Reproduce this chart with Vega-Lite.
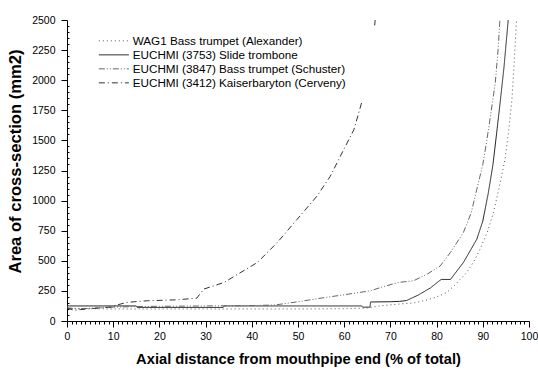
{
  "$schema": "https://vega.github.io/schema/vega-lite/v6.json",
  "width": 462,
  "height": 301,
  "autosize": "none",
  "padding": {"left": 67, "top": 20, "right": 9, "bottom": 49},
  "background": "white",
  "config": {
    "view": {"stroke": null},
    "font": "Liberation Sans",
    "axis": {"labelFont": "Liberation Sans Narrow, Liberation Sans", "titleFont": "Liberation Sans", "labelColor": "#000", "titleColor": "#000", "domainColor": "#000", "tickColor": "#000", "grid": false, "labelFontSize": 10.5}
  },
  "data": {
    "values": [
      {"s": "WAG1 Bass trumpet (Alexander)", "g": "w", "x": 0, "y": 120},
      {"s": "WAG1 Bass trumpet (Alexander)", "g": "w", "x": 1, "y": 105},
      {"s": "WAG1 Bass trumpet (Alexander)", "g": "w", "x": 5, "y": 102},
      {"s": "WAG1 Bass trumpet (Alexander)", "g": "w", "x": 10, "y": 100},
      {"s": "WAG1 Bass trumpet (Alexander)", "g": "w", "x": 30, "y": 100},
      {"s": "WAG1 Bass trumpet (Alexander)", "g": "w", "x": 50, "y": 100},
      {"s": "WAG1 Bass trumpet (Alexander)", "g": "w", "x": 60, "y": 102},
      {"s": "WAG1 Bass trumpet (Alexander)", "g": "w", "x": 65, "y": 108},
      {"s": "WAG1 Bass trumpet (Alexander)", "g": "w", "x": 68, "y": 127},
      {"s": "WAG1 Bass trumpet (Alexander)", "g": "w", "x": 72, "y": 141},
      {"s": "WAG1 Bass trumpet (Alexander)", "g": "w", "x": 75, "y": 150},
      {"s": "WAG1 Bass trumpet (Alexander)", "g": "w", "x": 78, "y": 175},
      {"s": "WAG1 Bass trumpet (Alexander)", "g": "w", "x": 80, "y": 200},
      {"s": "WAG1 Bass trumpet (Alexander)", "g": "w", "x": 82.2, "y": 237},
      {"s": "WAG1 Bass trumpet (Alexander)", "g": "w", "x": 84, "y": 300},
      {"s": "WAG1 Bass trumpet (Alexander)", "g": "w", "x": 86.5, "y": 403},
      {"s": "WAG1 Bass trumpet (Alexander)", "g": "w", "x": 88, "y": 490},
      {"s": "WAG1 Bass trumpet (Alexander)", "g": "w", "x": 89.4, "y": 596},
      {"s": "WAG1 Bass trumpet (Alexander)", "g": "w", "x": 91, "y": 740},
      {"s": "WAG1 Bass trumpet (Alexander)", "g": "w", "x": 92.3, "y": 900},
      {"s": "WAG1 Bass trumpet (Alexander)", "g": "w", "x": 93.5, "y": 1100},
      {"s": "WAG1 Bass trumpet (Alexander)", "g": "w", "x": 94.8, "y": 1341},
      {"s": "WAG1 Bass trumpet (Alexander)", "g": "w", "x": 95.6, "y": 1580},
      {"s": "WAG1 Bass trumpet (Alexander)", "g": "w", "x": 96.3, "y": 1838},
      {"s": "WAG1 Bass trumpet (Alexander)", "g": "w", "x": 96.8, "y": 2150},
      {"s": "WAG1 Bass trumpet (Alexander)", "g": "w", "x": 97.3, "y": 2500},

      {"s": "EUCHMI (3753) Slide trombone", "g": "t", "x": 0, "y": 130},
      {"s": "EUCHMI (3753) Slide trombone", "g": "t", "x": 0.5, "y": 125},
      {"s": "EUCHMI (3753) Slide trombone", "g": "t", "x": 15, "y": 125},
      {"s": "EUCHMI (3753) Slide trombone", "g": "t", "x": 15.2, "y": 113},
      {"s": "EUCHMI (3753) Slide trombone", "g": "t", "x": 33.8, "y": 113},
      {"s": "EUCHMI (3753) Slide trombone", "g": "t", "x": 34, "y": 125},
      {"s": "EUCHMI (3753) Slide trombone", "g": "t", "x": 63.8, "y": 125},
      {"s": "EUCHMI (3753) Slide trombone", "g": "t", "x": 64, "y": 115},
      {"s": "EUCHMI (3753) Slide trombone", "g": "t", "x": 65.6, "y": 115},
      {"s": "EUCHMI (3753) Slide trombone", "g": "t", "x": 65.7, "y": 158},
      {"s": "EUCHMI (3753) Slide trombone", "g": "t", "x": 70, "y": 160},
      {"s": "EUCHMI (3753) Slide trombone", "g": "t", "x": 72, "y": 163},
      {"s": "EUCHMI (3753) Slide trombone", "g": "t", "x": 73.5, "y": 170},
      {"s": "EUCHMI (3753) Slide trombone", "g": "t", "x": 76, "y": 215},
      {"s": "EUCHMI (3753) Slide trombone", "g": "t", "x": 78.6, "y": 273},
      {"s": "EUCHMI (3753) Slide trombone", "g": "t", "x": 80.6, "y": 334},
      {"s": "EUCHMI (3753) Slide trombone", "g": "t", "x": 81, "y": 345},
      {"s": "EUCHMI (3753) Slide trombone", "g": "t", "x": 83, "y": 345},
      {"s": "EUCHMI (3753) Slide trombone", "g": "t", "x": 85.8, "y": 486},
      {"s": "EUCHMI (3753) Slide trombone", "g": "t", "x": 88.7, "y": 679},
      {"s": "EUCHMI (3753) Slide trombone", "g": "t", "x": 90, "y": 830},
      {"s": "EUCHMI (3753) Slide trombone", "g": "t", "x": 91.2, "y": 1065},
      {"s": "EUCHMI (3753) Slide trombone", "g": "t", "x": 92.2, "y": 1300},
      {"s": "EUCHMI (3753) Slide trombone", "g": "t", "x": 93, "y": 1562},
      {"s": "EUCHMI (3753) Slide trombone", "g": "t", "x": 93.8, "y": 1830},
      {"s": "EUCHMI (3753) Slide trombone", "g": "t", "x": 94.6, "y": 2113},
      {"s": "EUCHMI (3753) Slide trombone", "g": "t", "x": 95.5, "y": 2500},

      {"s": "EUCHMI (3847) Bass trumpet (Schuster)", "g": "b", "x": 0, "y": 110},
      {"s": "EUCHMI (3847) Bass trumpet (Schuster)", "g": "b", "x": 2, "y": 100},
      {"s": "EUCHMI (3847) Bass trumpet (Schuster)", "g": "b", "x": 5, "y": 105},
      {"s": "EUCHMI (3847) Bass trumpet (Schuster)", "g": "b", "x": 10, "y": 115},
      {"s": "EUCHMI (3847) Bass trumpet (Schuster)", "g": "b", "x": 15, "y": 120},
      {"s": "EUCHMI (3847) Bass trumpet (Schuster)", "g": "b", "x": 20, "y": 122},
      {"s": "EUCHMI (3847) Bass trumpet (Schuster)", "g": "b", "x": 30, "y": 125},
      {"s": "EUCHMI (3847) Bass trumpet (Schuster)", "g": "b", "x": 40, "y": 128},
      {"s": "EUCHMI (3847) Bass trumpet (Schuster)", "g": "b", "x": 45, "y": 133},
      {"s": "EUCHMI (3847) Bass trumpet (Schuster)", "g": "b", "x": 50, "y": 160},
      {"s": "EUCHMI (3847) Bass trumpet (Schuster)", "g": "b", "x": 55, "y": 190},
      {"s": "EUCHMI (3847) Bass trumpet (Schuster)", "g": "b", "x": 60, "y": 218},
      {"s": "EUCHMI (3847) Bass trumpet (Schuster)", "g": "b", "x": 65.7, "y": 251},
      {"s": "EUCHMI (3847) Bass trumpet (Schuster)", "g": "b", "x": 68, "y": 280},
      {"s": "EUCHMI (3847) Bass trumpet (Schuster)", "g": "b", "x": 71.7, "y": 320},
      {"s": "EUCHMI (3847) Bass trumpet (Schuster)", "g": "b", "x": 75, "y": 334},
      {"s": "EUCHMI (3847) Bass trumpet (Schuster)", "g": "b", "x": 78, "y": 390},
      {"s": "EUCHMI (3847) Bass trumpet (Schuster)", "g": "b", "x": 80.8, "y": 458},
      {"s": "EUCHMI (3847) Bass trumpet (Schuster)", "g": "b", "x": 83, "y": 570},
      {"s": "EUCHMI (3847) Bass trumpet (Schuster)", "g": "b", "x": 85.8, "y": 735},
      {"s": "EUCHMI (3847) Bass trumpet (Schuster)", "g": "b", "x": 87.5, "y": 900},
      {"s": "EUCHMI (3847) Bass trumpet (Schuster)", "g": "b", "x": 88.7, "y": 1093},
      {"s": "EUCHMI (3847) Bass trumpet (Schuster)", "g": "b", "x": 90, "y": 1300},
      {"s": "EUCHMI (3847) Bass trumpet (Schuster)", "g": "b", "x": 90.9, "y": 1507},
      {"s": "EUCHMI (3847) Bass trumpet (Schuster)", "g": "b", "x": 91.8, "y": 1740},
      {"s": "EUCHMI (3847) Bass trumpet (Schuster)", "g": "b", "x": 92.7, "y": 1977},
      {"s": "EUCHMI (3847) Bass trumpet (Schuster)", "g": "b", "x": 93.3, "y": 2250},
      {"s": "EUCHMI (3847) Bass trumpet (Schuster)", "g": "b", "x": 93.7, "y": 2500},

      {"s": "EUCHMI (3412) Kaiserbaryton (Cerveny)", "g": "k", "x": 0, "y": 110},
      {"s": "EUCHMI (3412) Kaiserbaryton (Cerveny)", "g": "k", "x": 1.5, "y": 88},
      {"s": "EUCHMI (3412) Kaiserbaryton (Cerveny)", "g": "k", "x": 3, "y": 95},
      {"s": "EUCHMI (3412) Kaiserbaryton (Cerveny)", "g": "k", "x": 6, "y": 105},
      {"s": "EUCHMI (3412) Kaiserbaryton (Cerveny)", "g": "k", "x": 9.5, "y": 116},
      {"s": "EUCHMI (3412) Kaiserbaryton (Cerveny)", "g": "k", "x": 11, "y": 135},
      {"s": "EUCHMI (3412) Kaiserbaryton (Cerveny)", "g": "k", "x": 13, "y": 155},
      {"s": "EUCHMI (3412) Kaiserbaryton (Cerveny)", "g": "k", "x": 17.4, "y": 168},
      {"s": "EUCHMI (3412) Kaiserbaryton (Cerveny)", "g": "k", "x": 23.9, "y": 176},
      {"s": "EUCHMI (3412) Kaiserbaryton (Cerveny)", "g": "k", "x": 28.1, "y": 190},
      {"s": "EUCHMI (3412) Kaiserbaryton (Cerveny)", "g": "k", "x": 29.6, "y": 265},
      {"s": "EUCHMI (3412) Kaiserbaryton (Cerveny)", "g": "k", "x": 34, "y": 320},
      {"s": "EUCHMI (3412) Kaiserbaryton (Cerveny)", "g": "k", "x": 41.2, "y": 486},
      {"s": "EUCHMI (3412) Kaiserbaryton (Cerveny)", "g": "k", "x": 45.5, "y": 651},
      {"s": "EUCHMI (3412) Kaiserbaryton (Cerveny)", "g": "k", "x": 49.8, "y": 844},
      {"s": "EUCHMI (3412) Kaiserbaryton (Cerveny)", "g": "k", "x": 54.1, "y": 1037},
      {"s": "EUCHMI (3412) Kaiserbaryton (Cerveny)", "g": "k", "x": 57, "y": 1203},
      {"s": "EUCHMI (3412) Kaiserbaryton (Cerveny)", "g": "k", "x": 59.9, "y": 1424},
      {"s": "EUCHMI (3412) Kaiserbaryton (Cerveny)", "g": "k", "x": 62.1, "y": 1589},
      {"s": "EUCHMI (3412) Kaiserbaryton (Cerveny)", "g": "k", "x": 63.9, "y": 1830},
      {"s": "EUCHMI (3412) Kaiserbaryton (Cerveny)", "g": "k2", "x": 66.6, "y": 2455},
      {"s": "EUCHMI (3412) Kaiserbaryton (Cerveny)", "g": "k2", "x": 66.7, "y": 2500}
    ]
  },
  "layer": [
    {
      "mark": {"type": "line", "strokeWidth": 1, "clip": true},
      "encoding": {
        "x": {
          "field": "x", "type": "quantitative",
          "scale": {"domain": [0, 100], "nice": false},
          "axis": {"orient": "bottom", "values": [0, 10, 20, 30, 40, 50, 60, 70, 80, 90, 100], "tickSize": 6, "labelPadding": 4, "title": "Axial distance from mouthpipe end (% of total)", "titleFontSize": 14.7, "titleFontWeight": "bold", "titlePadding": 10, "labelFlush": false}
        },
        "y": {
          "field": "y", "type": "quantitative",
          "scale": {"domain": [0, 2500], "nice": false},
          "axis": {"orient": "left", "values": [0, 250, 500, 750, 1000, 1250, 1500, 1750, 2000, 2250, 2500], "format": "d", "tickSize": 6, "labelPadding": 6, "title": "Area of cross-section (mm2)", "titleFontSize": 16.6, "titleFontWeight": "bold", "titlePadding": 8, "titleY": 141, "labelFlush": false}
        },
        "color": {
          "field": "s", "type": "nominal",
          "scale": {"domain": ["WAG1 Bass trumpet (Alexander)", "EUCHMI (3753) Slide trombone", "EUCHMI (3847) Bass trumpet (Schuster)", "EUCHMI (3412) Kaiserbaryton (Cerveny)"], "range": ["#555555", "#222222", "#666666", "#333333"]},
          "legend": {"orient": "none", "legendX": 31, "legendY": 15, "title": null, "symbolType": "M-1,0H5", "symbolSize": 100, "symbolStrokeWidth": 1, "labelFontSize": 11.7, "labelFont": "Liberation Sans", "labelColor": "#000", "labelOffset": 23, "rowPadding": 1, "labelLimit": 400}
        },
        "strokeDash": {
          "field": "s", "type": "nominal",
          "scale": {"domain": ["WAG1 Bass trumpet (Alexander)", "EUCHMI (3753) Slide trombone", "EUCHMI (3847) Bass trumpet (Schuster)", "EUCHMI (3412) Kaiserbaryton (Cerveny)"], "range": [[1, 3], [1, 0], [6, 2, 1, 2, 1, 2], [6, 3, 1, 3]]}
        },
        "detail": {"field": "g"}
      }
    },
    {
      "mark": {"type": "line", "opacity": 0},
      "encoding": {
        "x": {
          "field": "x", "type": "quantitative",
          "scale": {"domain": [0, 100], "nice": false},
          "axis": {"orient": "bottom", "values": [1,2,3,4,5,6,7,8,9,11,12,13,14,15,16,17,18,19,21,22,23,24,25,26,27,28,29,31,32,33,34,35,36,37,38,39,41,42,43,44,45,46,47,48,49,51,52,53,54,55,56,57,58,59,61,62,63,64,65,66,67,68,69,71,72,73,74,75,76,77,78,79,81,82,83,84,85,86,87,88,89,91,92,93,94,95,96,97,98,99], "tickSize": 3, "labels": false, "domain": false, "title": null}
        },
        "y": {
          "field": "y", "type": "quantitative",
          "scale": {"domain": [0, 2500], "nice": false},
          "axis": {"orient": "left", "values": [50,100,150,200,300,350,400,450,550,600,650,700,800,850,900,950,1050,1100,1150,1200,1300,1350,1400,1450,1550,1600,1650,1700,1800,1850,1900,1950,2050,2100,2150,2200,2300,2350,2400,2450], "tickSize": -2, "labels": false, "domain": false, "title": null}
        },
        "detail": {"field": "g"}
      }
    }
  ],
  "resolve": {"axis": {"x": "independent", "y": "independent"}}
}
